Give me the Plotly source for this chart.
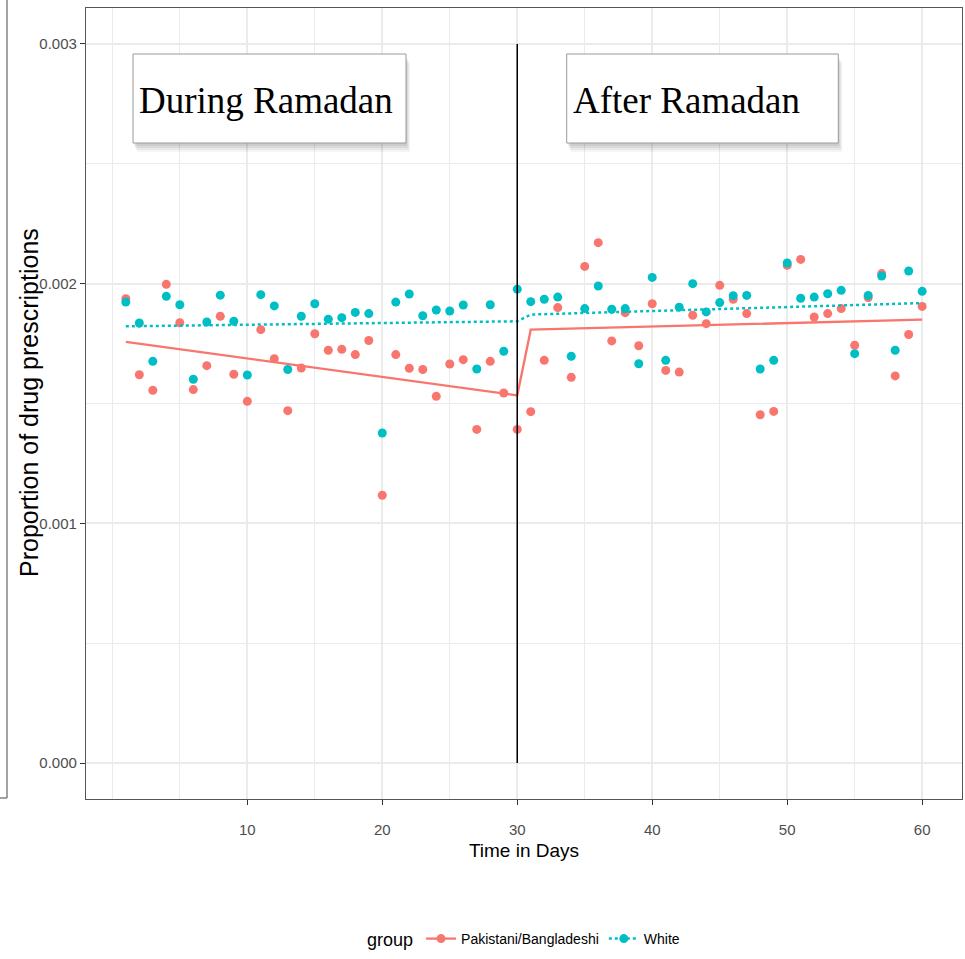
import plotly.graph_objects as go

# ---------------- data ----------------
days = list(range(1, 61))

pak_bang = [1.937, 1.620, 1.555, 1.997, 1.837, 1.558, 1.658, 1.864, 1.622, 1.509,
            1.808, 1.687, 1.470, 1.648, 1.791, 1.722, 1.726, 1.704, 1.763, 1.117,
            1.704, 1.647, 1.642, 1.530, 1.665, 1.683, 1.392, 1.676, 1.544, 1.392,
            1.466, 1.680, 1.900, 1.609, 2.072, 2.171, 1.761, 1.879, 1.741, 1.916,
            1.638, 1.631, 1.868, 1.833, 1.993, 1.935, 1.875, 1.453, 1.467, 2.076,
            2.101, 1.861, 1.875, 1.896, 1.743, 1.942, 2.042, 1.615, 1.788, 1.905]

white = [1.923, 1.836, 1.676, 1.947, 1.912, 1.601, 1.840, 1.952, 1.843, 1.619,
         1.954, 1.907, 1.642, 1.864, 1.916, 1.852, 1.858, 1.880, 1.875, 1.377,
         1.923, 1.957, 1.866, 1.890, 1.886, 1.911, 1.644, 1.912, 1.718, 1.977,
         1.925, 1.935, 1.944, 1.697, 1.896, 1.990, 1.893, 1.896, 1.666, 2.026,
         1.680, 1.902, 2.000, 1.882, 1.921, 1.950, 1.951, 1.644, 1.680, 2.086,
         1.939, 1.944, 1.958, 1.972, 1.708, 1.951, 2.032, 1.722, 2.053, 1.968]

fit_days = [1, 30, 31, 60]
fit_pak_bang = [1.757, 1.534, 1.808, 1.850]
fit_white = [1.822, 1.843, 1.871, 1.919]

scale = 1e-3
groups = ["Pakistani/Bangladeshi", "White"]
ramadan_end_day = 30
vline_y = [0.0, 0.003]
x_ticks = [10, 20, 30, 40, 50, 60]
y_ticks = [0.000, 0.001, 0.002, 0.003]
y_tick_labels = ["0.000", "0.001", "0.002", "0.003"]
phase_labels = ["During Ramadan", "After Ramadan"]

# ---------------- style ----------------
RED = "#F8766D"
TEAL = "#00BFC4"
FONT = "Liberation Sans, Arial, sans-serif"

W, H = 965, 959
ML, MR, MT, MB = 86, 3, 8, 160
PW, PH = W - ML - MR, H - MT - MB


def px_x(px):
    return (px - ML) / PW


def px_y(py):
    return (H - MB - py) / PH


fig = go.Figure()

# points
for name, vals, col in [(groups[0], pak_bang, RED), (groups[1], white, TEAL)]:
    fig.add_trace(go.Scatter(
        x=days, y=[v * scale for v in vals], mode="markers",
        marker=dict(color=col, size=9, line=dict(width=0)),
        showlegend=False, legendgroup=name, hoverinfo="skip"))

# fitted lines
fig.add_trace(go.Scatter(
    x=fit_days, y=[v * scale for v in fit_pak_bang], mode="lines",
    line=dict(color=RED, width=2.3), showlegend=False, legendgroup=groups[0]))
fig.add_trace(go.Scatter(
    x=fit_days, y=[v * scale for v in fit_white], mode="lines",
    line=dict(color=TEAL, width=2.5, dash="dot"), showlegend=False, legendgroup=groups[1]))

# legend entries
fig.add_trace(go.Scatter(
    x=[None], y=[None], mode="lines+markers", name=groups[0], legendgroup=groups[0],
    line=dict(color=RED, width=2.3), marker=dict(color=RED, size=9)))
fig.add_trace(go.Scatter(
    x=[None], y=[None], mode="lines+markers", name=groups[1], legendgroup=groups[1],
    line=dict(color=TEAL, width=2.5, dash="dot"), marker=dict(color=TEAL, size=9)))

shapes = []
# vertical line at end of Ramadan
shapes.append(dict(type="line", xref="x", yref="y",
                   x0=ramadan_end_day, x1=ramadan_end_day, y0=vline_y[0], y1=vline_y[1],
                   line=dict(color="black", width=1.5), layer="above"))

# text boxes with shadows
boxes = [(133, 406, 54, 143), (566.7, 838.3, 54, 143)]
for (x0, x1, y0, y1) in boxes:
    for dx, dy, op in [(1, 3, 0.06), (2, 5, 0.06), (3, 7, 0.05), (4, 9, 0.04)]:
        shapes.append(dict(type="rect", xref="paper", yref="paper",
                           x0=px_x(x0 + dx), x1=px_x(x1 + dx), y0=px_y(y1 + dy), y1=px_y(y0 + dy),
                           fillcolor="black", opacity=op, line=dict(width=0), layer="above"))
    shapes.append(dict(type="rect", xref="paper", yref="paper",
                       x0=px_x(x0), x1=px_x(x1), y0=px_y(y1), y1=px_y(y0),
                       fillcolor="white", line=dict(color="#9a9a9a", width=1), layer="above"))

# leftover frame of the neighbouring panel
shapes.append(dict(type="line", xref="paper", yref="paper",
                   x0=px_x(7), x1=px_x(7), y0=px_y(0), y1=px_y(798),
                   line=dict(color="#666666", width=1.2)))
shapes.append(dict(type="line", xref="paper", yref="paper",
                   x0=px_x(0), x1=px_x(7), y0=px_y(798), y1=px_y(798),
                   line=dict(color="#666666", width=1.2)))

annotations = []
for lbl, xpx in zip(phase_labels, [137, 571]):
    annotations.append(dict(text=lbl, xref="paper", yref="paper", x=px_x(xpx), y=px_y(101),
                            xanchor="left", yanchor="middle", showarrow=False,
                            font=dict(family="Liberation Serif, Times New Roman, serif",
                                      size=37, color="black")))

# y-axis title as rotated text
annotations.append(dict(text="Proportion of drug prescriptions", xref="paper", yref="paper",
                        x=px_x(29), y=px_y(403), xanchor="center", yanchor="middle",
                        textangle=-90, showarrow=False,
                        font=dict(family=FONT, size=25, color="black")))

axis_common = dict(
    showgrid=True, gridcolor="#EBEBEB", gridwidth=1.5,
    showline=True, linecolor="#555555", linewidth=1.2, mirror=True,
    ticks="outside", ticklen=5, tickcolor="#333333", tickwidth=1,
    zeroline=False,
    tickfont=dict(family=FONT, size=15, color="#4D4D4D"),
)

fig.update_layout(
    width=W, height=H,
    margin=dict(l=ML, r=MR, t=MT, b=MB, autoexpand=False),
    paper_bgcolor="white", plot_bgcolor="white",
    xaxis=dict(range=[-1.95, 62.95], tickvals=x_ticks,
               minor=dict(showgrid=True, dtick=5, tick0=0, gridcolor="#EBEBEB", gridwidth=0.8, ticks=""),
               title=dict(text="Time in Days", font=dict(family=FONT, size=19, color="black"), standoff=6),
               ticklabelstandoff=12,
               **axis_common),
    yaxis=dict(range=[-0.00015, 0.00315], tickvals=y_ticks, ticktext=y_tick_labels,
               minor=dict(showgrid=True, dtick=0.0005, tick0=0, gridcolor="#EBEBEB", gridwidth=0.8, ticks=""),
               **axis_common),
    legend=dict(orientation="h", xref="paper", yref="paper", x=px_x(525), y=px_y(940),
                xanchor="center", yanchor="middle",
                title=dict(text="group", font=dict(family=FONT, size=18, color="black"), side="left"),
                font=dict(family=FONT, size=14, color="black"),
                itemwidth=30, bgcolor="rgba(0,0,0,0)"),
    shapes=shapes,
    annotations=annotations,
    showlegend=True,
)

fig.write_html("out.html")
